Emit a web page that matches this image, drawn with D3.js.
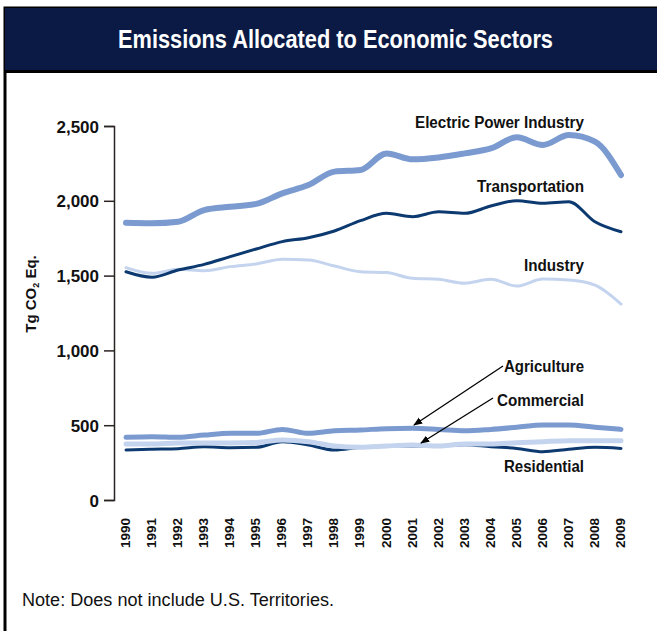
<!DOCTYPE html>
<html><head><meta charset="utf-8">
<script src="https://cdn.jsdelivr.net/npm/d3@7"></script>
<style>body{margin:0;background:#fff}svg{display:block}</style>
</head><body>
<svg id="c" width="657" height="631"></svg>
<script>
const years = d3.range(1990, 2010);
const electric = [1853,1850,1860,1938,1960,1979,2050,2105,2195,2206,2317,2277,2290,2317,2350,2424,2373,2440,2395,2172];
const transportation = [1526,1489,1537,1575,1627,1678,1727,1753,1798,1867,1916,1894,1927,1916,1965,2001,1983,1994,1860,1793];
const industry = [1553,1515,1542,1533,1560,1578,1609,1604,1564,1526,1520,1482,1475,1449,1475,1430,1477,1471,1437,1310];
const agriculture = [419,423,419,434,446,446,472,446,463,468,477,479,472,463,472,486,501,501,486,472];
const commercial = [374,374,381,381,381,384,401,390,361,352,361,368,361,374,374,383,390,396,396,396];
const residential = [334,339,343,356,350,352,390,368,334,352,361,361,361,370,356,345,323,339,352,345];
const yTicks = [0,500,1000,1500,2000,2500];
const title = "Emissions Allocated to Economic Sectors";
const note = "Note: Does not include U.S. Territories.";

const MED = "#7b9bd0", DARK = "#0c3a70", LIGHT = "#c4d4ee";
const svg = d3.select("#c");
const COND = "'Liberation Sans Narrow','Liberation Sans',Arial,sans-serif";

svg.append("rect").attr("x",0).attr("y",0).attr("width",657).attr("height",631).attr("fill","#fff");
// frame
svg.append("rect").attr("x",5).attr("y",8).attr("width",700).attr("height",700)
  .attr("fill","#fff").attr("stroke","#000").attr("stroke-width",3);
svg.append("rect").attr("x",5).attr("y",8).attr("width",700).attr("height",63).attr("fill","#0a1a44");
svg.append("line").attr("x1",5).attr("x2",657).attr("y1",71.5).attr("y2",71.5).attr("stroke","#000").attr("stroke-width",3);
svg.append("text").text(title).attr("x",335.5).attr("y",48).attr("text-anchor","middle")
  .attr("fill","#fff").attr("font-family",COND).attr("font-weight","bold").attr("font-size",25)
  .attr("textLength",435).attr("lengthAdjust","spacingAndGlyphs");

const x = d3.scaleLinear().domain([1990,2009]).range([126,621]);
const y = d3.scaleLinear().domain([0,2500]).range([500,126]);

// y axis
const ax = svg.append("g").attr("transform","translate(114,0)")
  .call(d3.axisLeft(y).tickValues(yTicks).tickFormat(d3.format(",")).tickSize(10).tickPadding(5));
ax.select(".domain").attr("stroke","#2b2222").attr("stroke-width",1.5);
ax.selectAll(".tick line").attr("stroke","#2b2222").attr("stroke-width",1.5);
ax.selectAll("text").attr("font-family",COND).attr("font-weight","bold").attr("font-size",17).attr("fill","#111").attr("dy","0.36em");

// y title
const yt = svg.append("text").attr("transform","translate(35.5,294) rotate(-90)")
  .attr("text-anchor","middle").attr("font-family",COND).attr("font-weight","bold").attr("font-size",15).attr("fill","#111");
yt.append("tspan").text("Tg CO");
yt.append("tspan").text("2").attr("font-size",9).attr("dy",3);
yt.append("tspan").text(" Eq.").attr("dy",-3);

// x labels
svg.append("g").selectAll("text").data(years).join("text")
  .attr("transform",d=>`translate(${x(d)+4},518) rotate(-90)`)
  .attr("text-anchor","end").attr("font-family",COND).attr("font-weight","bold").attr("font-size",13.5).attr("fill","#111")
  .text(d=>d);

const line = d3.line().x((d,i)=>x(years[i])).y(d=>y(d)).curve(d3.curveMonotoneX);
const series = [
  {v:industry,c:LIGHT,w:3},
  {v:transportation,c:DARK,w:3},
  {v:electric,c:MED,w:6},
  {v:residential,c:DARK,w:3},
  {v:commercial,c:LIGHT,w:5},
  {v:agriculture,c:MED,w:5}
];
svg.append("g").selectAll("path").data(series).join("path")
  .attr("d",d=>line(d.v)).attr("fill","none").attr("stroke",d=>d.c).attr("stroke-width",d=>d.w)
  .attr("stroke-linecap","round");

// labels
const labels = [
  {t:"Electric Power Industry",y:128,w:169},
  {t:"Transportation",y:192,w:107},
  {t:"Industry",y:271,w:60},
  {t:"Agriculture",y:372,w:80},
  {t:"Commercial",y:406,w:87},
  {t:"Residential",y:472,w:80}
];
svg.append("g").selectAll("text").data(labels).join("text")
  .attr("x",d=>584-d.w).attr("y",d=>d.y).text(d=>d.t)
  .attr("font-family",COND).attr("font-weight","bold").attr("font-size",16).attr("fill","#111")
  .attr("textLength",d=>d.w).attr("lengthAdjust","spacingAndGlyphs");

// arrows
svg.append("defs").append("marker").attr("id","ah").attr("viewBox","0 0 10 10").attr("refX",9).attr("refY",5)
  .attr("markerWidth",9).attr("markerHeight",9).attr("markerUnits","userSpaceOnUse").attr("orient","auto")
  .append("path").attr("d","M0,1L10,5L0,9Z").attr("fill","#000");
const arrows = [[503,366,414,425],[493,398,421,443]];
svg.append("g").selectAll("line").data(arrows).join("line")
  .attr("x1",d=>d[0]).attr("y1",d=>d[1]).attr("x2",d=>d[2]).attr("y2",d=>d[3])
  .attr("stroke","#000").attr("stroke-width",1.3).attr("marker-end","url(#ah)");

svg.append("text").text(note).attr("x",22).attr("y",606)
  .attr("font-family",COND).attr("font-size",18).attr("fill","#111")
  .attr("textLength",312).attr("lengthAdjust","spacingAndGlyphs");
</script>
</body></html>
